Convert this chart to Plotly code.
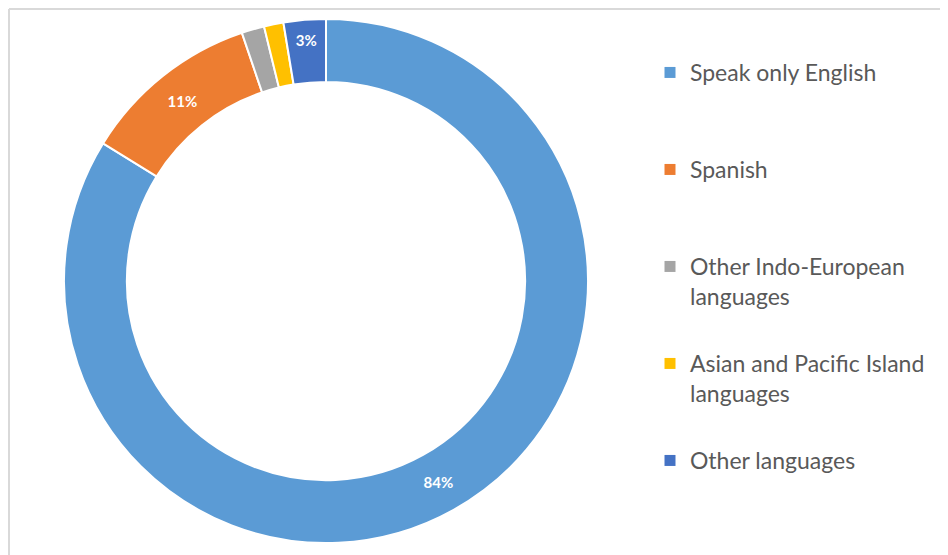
import plotly.graph_objects as go

labels = ["Speak only English", "Spanish", "Other Indo-European languages",
          "Asian and Pacific Island languages", "Other languages"]
legend_names = ["Speak only English<br> ", "Spanish<br> ", "Other Indo-European<br>languages",
                "Asian and Pacific Island<br>languages", "Other languages<br> "]
values = [83.8, 11.0, 1.4, 1.2, 2.6]
slice_text = ["84%", "11%", "", "", "3%"]
colors = ["#5B9BD5", "#ED7D31", "#A5A5A5", "#FFC000", "#4472C4"]

W, H = 948, 555
fig = go.Figure()
fig.add_trace(go.Pie(
    labels=labels, values=values, text=slice_text, textinfo="text",
    textposition="inside", insidetextorientation="horizontal",
    hole=0.76, sort=False, direction="clockwise", rotation=0,
    marker=dict(colors=colors, line=dict(color="white", width=2)),
    textfont=dict(family="Lato", size=15, color="white", weight="bold"),
    domain=dict(x=[56 / W, 580 / W], y=[1 - 535 / H, 1 - 11 / H]),
    showlegend=False, hoverinfo="label+percent",
))
for name, col in zip(legend_names, colors):
    fig.add_trace(go.Scatter(
        x=[None], y=[None], mode="markers", name=name, legendgroup=name,
        marker=dict(symbol="square", size=11, color=col),
    ))

fig.update_layout(
    width=W, height=H, margin=dict(l=0, r=0, t=0, b=0),
    paper_bgcolor="white", plot_bgcolor="white",
    xaxis=dict(visible=False), yaxis=dict(visible=False),
    legend=dict(x=642 / W, y=1 - 43 / H, xanchor="left", yanchor="top",
                traceorder="grouped", tracegroupgap=34.2, valign="top",
                font=dict(family="Lato", size=23, color="#595959"),
                bgcolor="rgba(0,0,0,0)"),
    shapes=[
        dict(type="line", xref="paper", yref="paper", x0=1 / W, x1=1, y0=1 - 1 / H, y1=1 - 1 / H,
             line=dict(color="#D9D9D9", width=2)),
        dict(type="line", xref="paper", yref="paper", x0=1 / W, x1=1 / W, y0=0, y1=1 - 1 / H,
             line=dict(color="#D9D9D9", width=2)),
    ],
)
fig.write_html("out.html")
